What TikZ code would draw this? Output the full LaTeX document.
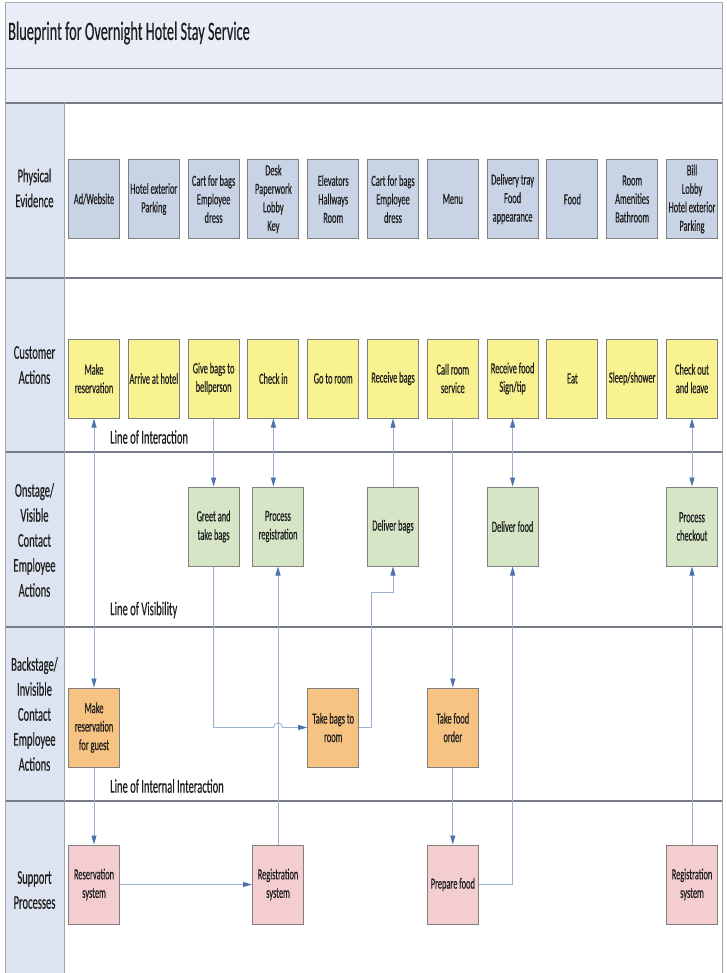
\documentclass[tikz,border=0pt]{standalone}
\usepackage{fontspec}
\setmainfont[FakeStretch=0.54,FakeBold=0.35]{Carlito}
\usetikzlibrary{arrows.meta}
\definecolor{bandblue}{HTML}{E8EDF7}
\definecolor{colblue}{HTML}{DDE4F1}
\definecolor{pefill}{HTML}{C9D3E6}
\definecolor{cafill}{HTML}{F8F290}
\definecolor{onfill}{HTML}{D5E5C6}
\definecolor{bsfill}{HTML}{F6C382}
\definecolor{spfill}{HTML}{F3CDD0}
\definecolor{boxline}{HTML}{808080}
\definecolor{laneline}{HTML}{767B86}
\definecolor{conline}{HTML}{9CB0D2}
\definecolor{tipblue}{HTML}{4E72AE}
\definecolor{txt}{HTML}{1E1E1E}
\tikzset{
  bx/.style={draw=boxline, line width=1pt, minimum width=51pt, minimum height=79pt,
    align=center, inner sep=1pt, text=txt, font=\fontsize{15.5}{18.5}\selectfont},
  pebox/.style={bx, fill=pefill},
  cabox/.style={bx, fill=cafill},
  onbox/.style={bx, fill=onfill},
  bsbox/.style={bx, fill=bsfill},
  spbox/.style={bx, fill=spfill},
  lanelbl/.style={align=center, text=txt, font=\fontsize{19.5}{25}\selectfont},
  linelbl/.style={anchor=west, text=txt, font=\fontsize{19.5}{22}\selectfont, inner sep=0pt},
  con/.style={draw=conline, line width=0.9pt},
  sgl/.style={con, -{Triangle[length=9pt,width=5pt,color=tipblue]}},
  dbl/.style={con, {Triangle[length=9pt,width=5pt,color=tipblue]}-{Triangle[length=9pt,width=5pt,color=tipblue]}},
}
\begin{document}
\begin{tikzpicture}[x=1pt,y=-1pt]
\useasboundingbox (0,0) rectangle (726,973);
\fill[white] (0,0) rectangle (726,973);
% bands
\fill[bandblue] (5,2) rectangle (722,103);
\fill[colblue] (5,103) rectangle (64,973);
\draw[laneline!60, line width=0.8pt] (5,2) -- (722,2);
\draw[laneline, line width=1pt] (5,69) -- (722,69);
\draw[laneline, line width=1.4pt] (5,103) -- (722,103);
\foreach \yy in {278,452,627,801} \draw[laneline, line width=1.1pt] (5,\yy) -- (722,\yy);
\draw[laneline!70, line width=0.8pt] (5,2) -- (5,973);
\draw[laneline!70, line width=0.8pt] (722,2) -- (722,973);
\draw[laneline!70, line width=0.8pt] (64,103) -- (64,973);
% title
\node[anchor=west, text=txt, font=\fontsize{26.5}{29}\selectfont, inner sep=0pt] (title) at (8,33) {Blueprint for Overnight Hotel Stay Service};
% lane labels
\node[lanelbl] (l1) at (34.5,188) {Physical\\Evidence};
\node[lanelbl] (l2) at (34.5,365) {Customer\\Actions};
\node[lanelbl] (l3) at (34.5,540) {Onstage/\\Visible\\Contact\\Employee\\Actions};
\node[lanelbl] (l4) at (34.5,714) {Backstage/\\Invisible\\Contact\\Employee\\Actions};
\node[lanelbl] (l5) at (34.5,890) {Support\\Processes};
% physical evidence
\node[pebox] (pe1) at (94,199) {Ad/Website};
\node[pebox] (pe2) at (153.8,199) {Hotel exterior\\Parking};
\node[pebox] (pe3) at (213.6,199) {Cart for bags\\Employee\\dress};
\node[pebox] (pe4) at (273.4,199) {Desk\\Paperwork\\Lobby\\Key};
\node[pebox] (pe5) at (333.2,199) {Elevators\\Hallways\\Room};
\node[pebox] (pe6) at (393,199) {Cart for bags\\Employee\\dress};
\node[pebox] (pe7) at (452.8,199) {Menu};
\node[pebox] (pe8) at (512.6,199) {Delivery tray\\Food\\appearance};
\node[pebox] (pe9) at (572.4,199) {Food};
\node[pebox] (pe10) at (632.2,199) {Room\\Amenities\\Bathroom};
\node[pebox] (pe11) at (692,199) {Bill\\Lobby\\Hotel exterior\\Parking};
% customer actions
\node[cabox] (ca1) at (94,378.5) {Make\\reservation};
\node[cabox] (ca2) at (153.8,378.5) {Arrive at hotel};
\node[cabox] (ca3) at (213.6,378.5) {Give bags to\\bellperson};
\node[cabox] (ca4) at (273.4,378.5) {Check in};
\node[cabox] (ca5) at (333.2,378.5) {Go to room};
\node[cabox] (ca6) at (393,378.5) {Receive bags};
\node[cabox] (ca7) at (452.8,378.5) {Call room\\service};
\node[cabox] (ca8) at (512.6,378.5) {Receive food\\Sign/tip};
\node[cabox] (ca9) at (572.4,378.5) {Eat};
\node[cabox] (ca10) at (632.2,378.5) {Sleep/shower};
\node[cabox] (ca11) at (692,378.5) {Check out\\and leave};
% onstage
\node[onbox] (on3) at (213.6,526.5) {Greet and\\take bags};
\node[onbox] (on4) at (278,526.5) {Process\\registration};
\node[onbox] (on6) at (393,526.5) {Deliver bags};
\node[onbox] (on8) at (512.6,526.5) {Deliver food};
\node[onbox] (on11) at (692,526.5) {Process\\checkout};
% backstage
\node[bsbox] (bs1) at (94,727.5) {Make\\reservation\\for guest};
\node[bsbox] (bs5) at (333.2,727.5) {Take bags to\\room};
\node[bsbox] (bs7) at (452.8,727.5) {Take food\\order};
% support
\node[spbox] (sp1) at (94,884.5) {Reservation\\system};
\node[spbox] (sp4) at (278,884.5) {Registration\\system};
\node[spbox] (sp7) at (452.8,884.5) {Prepare food};
\node[spbox] (sp11) at (692,884.5) {Registration\\system};
% line labels
\node[linelbl] (lia) at (110,437) {Line of Interaction};
\node[linelbl] (liv) at (110,610) {Line of Visibility};
\node[linelbl] (lii) at (110,786) {Line of Internal Interaction};
% connectors
\draw[dbl] (ca1.south) -- (bs1.north);
\draw[sgl] (bs1.south) -- (sp1.north);
\draw[sgl] (sp1.east) -- (sp4.west);
\draw[sgl] (sp4.north) -- (on4.south);
\draw[dbl] (ca4.south) -- (ca4.south |- on4.north);
\draw[sgl] (ca3.south) -- (on3.north);
\draw[sgl] (on3.south) -- (on3.south |- bs5.west) -- (273.5,727.5) .. controls (273.5,721.5) and (282.5,721.5) .. (282.5,727.5) -- (bs5.west);
\draw[sgl] (bs5.east) -- (371,727.5) -- (371,592) -| (on6.south);
\draw[sgl] (on6.north) -- (ca6.south);
\draw[sgl] (ca7.south) -- (bs7.north);
\draw[sgl] (bs7.south) -- (sp7.north);
\draw[sgl] (sp7.east) -| (on8.south);
\draw[dbl] (ca8.south) -- (on8.north);
\draw[dbl] (ca11.south) -- (on11.north);
\draw[sgl] (sp11.north) -- (on11.south);
\end{tikzpicture}
\end{document}
